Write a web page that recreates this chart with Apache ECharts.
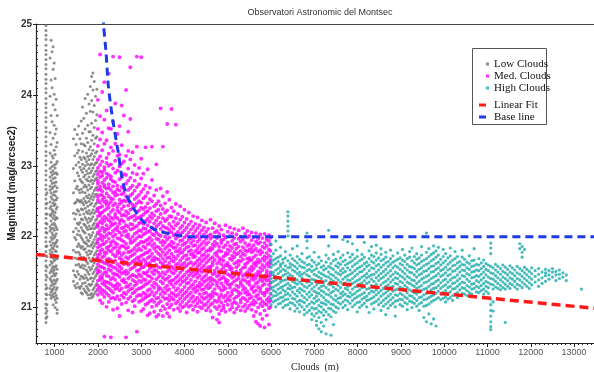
<!DOCTYPE html>
<html><head><meta charset="utf-8">
<script src="https://cdn.jsdelivr.net/npm/echarts@6/dist/echarts.min.js"></script>
<style>html,body{margin:0;padding:0;background:#fff}#chart{width:594px;height:372px}</style>
</head><body><div id="chart"></div>
<script>
// Sky brightness samples grouped by cloud-base height column.
// Each entry: [cloud height (m), [magnitude values in hundredths above MAG_BASE]]
const MAG_BASE = 20;

const lowClouds = [
  [800, [498,491,484,478,470,463,457,450,443,437,429,422,416,409,403,395,388,382,375,368,362,354,348,341,334,328,320,314,307,301,293,287,280,273,267,259,253,246,240,232,226,219,212,206,199,193,186,179,173,166,159,152,146,139,132,126,119,112,105,99,92,85,79]],
  [822, [262,247,232,218,205,187,172,157,143,128,118,104,95,87]],
  [895, [452,398,347,318,296,284,271,266,249,240,231,214,208,193,181,176,160,149,141,127,118]],
  [918, [477,421,371,330,305,291,279,262,256,243,229,222,211,199,188,171,165,152,138,131,122,113]],
  [942, [461,410,362,314,299,287,275,268,253,238,233,217,205,196,184,178,163,155,144,136,124,116]],
  [965, [468,436,386,339,311,293,282,270,259,247,236,226,212,202,191,183,170,158,150,133,126,119,104]],
  [990, [445,401,357,322,301,289,276,263,251,244,230,219,209,198,187,174,166,153,147,139,129,115]],
  [1012, [423,379,345,316,297,283,272,258,246,234,224,216,201,190,180,168,157,145,134,121,111,100]],
  [1036, [394,352,327,303,290,277,264,252,239,227,213,204,192,179,172,159,148,137,125,117,107]],
  [1058, [371,333,306,288,269,255,242,226,210,195,186,169,154,140,128,113,97,92]],
  [1435, [338,296,262,233,207,181,152,137]],
  [1465, [351,314,279,247,225,199,170,146,131]],
  [1495, [330,301,268,249,232,212,196,178,160,143,128]],
  [1525, [344,318,290,271,252,238,219,203,186,169,151,134]],
  [1555, [356,322,305,286,266,251,236,217,208,190,178,161,147,129]],
  [1585, [338,312,298,281,262,249,231,220,202,187,175,158,140,127]],
  [1615, [363,331,309,294,278,267,251,239,225,213,199,184,171,157,144,130,121]],
  [1645, [383,346,320,302,291,276,263,248,238,224,209,196,186,168,160,143,134,119]],
  [1675, [367,330,312,296,284,270,254,245,232,218,207,193,182,171,155,141,126]],
  [1705, [395,352,328,310,300,287,273,262,250,240,227,216,205,191,183,168,159,146,135,123]],
  [1735, [374,339,318,306,293,281,270,257,248,235,224,213,199,190,178,165,153,142,130,121]],
  [1765, [401,357,333,313,302,289,279,266,255,243,233,220,210,195,187,174,162,150,139,127,118]],
  [1795, [387,348,323,309,296,284,273,259,250,237,226,215,203,194,180,170,157,147,133,124,113]],
  [1825, [412,377,348,327,314,301,290,278,268,254,245,232,222,211,199,187,176,166,153,141,131,118]],
  [1855, [426,392,360,336,317,303,293,280,270,257,247,234,225,212,202,189,179,165,155,142,133,120,114]],
  [1885, [431,407,376,343,322,309,297,285,275,261,252,238,228,216,206,192,184,170,159,148,137,125,116]],
  [1915, [419,385,354,331,313,301,288,279,265,256,243,233,219,211,196,187,174,163,151,141,128,119]],
  [1945, [398,364,339,318,304,292,281,268,259,246,236,223,213,200,190,177,167,154,144,131,122]],
  [1975, [408,372,341,320,305,293,283,270,260,248,239,225,216,203,193,180,170,157,147,134,124]]
];

const medClouds = [
  [2000, [393,352,328,309,297,288,279,275,266,256,251,240,236,229,218,214,206,196,191,185,174,170,161,153,149,138,131,126,118]],
  [2050, [457,370,337,313,301,292,284,271,267,259,248,241,233,230,221,209,203,198,187,180,176,166,158,151,143,139,128,122,110]],
  [2100, [404,347,322,306,291,286,276,264,258,252,243,234,225,219,213,201,195,189,182,171,165,157,146,141,134,125,119,106]],
  [2150, [418,365,331,298,294,280,273,270,255,249,237,228,222,211,207,199,190,178,173,163,155,149,137,132,123,115,59]],
  [2200, [378,336,311,304,289,283,268,261,250,245,239,226,216,210,202,193,184,177,168,162,150,145,136,129,120,101]],
  [2250, [430,353,317,300,287,274,269,257,246,241,231,223,212,205,197,186,181,169,160,154,144,135,127,117,108]],
  [2300, [352,326,302,285,281,266,254,249,235,227,220,215,204,192,188,179,167,159,152,140,133,124,113,58]],
  [2350, [454,362,321,296,278,271,262,253,244,238,225,217,208,200,194,183,175,164,157,148,142,130,121,114,97]],
  [2400, [388,331,307,290,277,263,258,247,232,228,219,211,203,191,185,172,166,156,147,139,131,126,112]],
  [2450, [345,314,293,272,267,259,242,237,226,214,209,198,189,180,176,161,153,146,134,128,116,99]],
  [2500, [453,356,316,299,281,265,252,246,234,222,218,206,197,184,178,170,158,151,143,132,124,111,88]],
  [2550, [385,329,303,284,270,260,249,239,230,224,212,202,195,187,174,168,155,148,138,127,117,105]],
  [2600, [371,306,288,268,262,251,243,231,221,213,207,193,186,177,165,161,150,140,136,121,114]],
  [2650, [407,314,287,275,257,250,236,229,216,208,201,190,183,171,164,152,147,135,129,119,107,58]],
  [2700, [348,321,296,279,266,255,244,233,225,214,203,199,185,178,169,160,149,141,130,123,112,96]],
  [2750, [439,366,309,283,269,258,248,238,227,218,210,196,191,179,172,162,154,144,133,126,115]],
  [2800, [319,290,272,261,245,240,228,217,211,200,192,181,174,165,156,146,139,127,120,109,93]],
  [2850, [301,279,265,253,243,230,223,213,204,195,184,176,167,158,145,137,131,122,111,102]],
  [2900, [454,327,288,270,256,247,235,226,215,206,198,188,180,170,163,152,143,134,125,116,66]],
  [2950, [297,274,259,250,237,227,219,209,201,190,183,171,166,153,147,138,127,118,108]],
  [3000, [453,310,282,263,248,241,229,220,208,200,193,181,173,164,156,144,136,128,117,110,95]],
  [3050, [289,267,254,239,231,218,212,203,192,186,175,168,157,149,140,130,121,112,98]],
  [3100, [326,272,257,242,234,222,211,205,194,184,177,165,160,148,139,133,119,114,104]],
  [3150, [295,262,247,236,225,216,207,196,189,178,170,161,151,145,134,124,116,106,89]],
  [3200, [269,253,240,229,221,208,199,191,181,172,163,155,144,137,126,118,109,92]],
  [3250, [327,280,250,233,226,213,204,195,187,176,167,158,150,141,131,122,111,101]],
  [3300, [258,243,230,219,210,202,190,183,171,166,153,147,135,128,117,108,94]],
  [3350, [302,266,246,236,223,214,206,197,186,179,169,160,152,140,133,121,113,103,87]],
  [3400, [250,238,227,217,203,196,185,176,168,157,149,143,129,125,114,106,90]],
  [3450, [381,268,244,232,220,211,201,192,182,173,164,156,146,137,127,119,109,96]],
  [3500, [327,257,239,226,215,207,194,188,178,169,161,150,142,134,123,115,102,88]],
  [3550, [247,234,222,213,200,192,183,174,165,158,147,139,128,120,112,98]],
  [3600, [359,263,237,225,212,204,196,186,177,170,159,151,141,131,124,113,105,92]],
  [3650, [252,229,218,209,199,189,181,171,163,154,144,136,126,117,110,100,87]],
  [3700, [380,241,228,214,206,193,187,176,167,158,150,138,133,121,114,104]],
  [3750, [236,221,211,202,191,184,172,165,155,148,139,129,119,111,97]],
  [3800, [358,246,226,216,204,197,185,179,169,160,152,142,134,124,116,106]],
  [3850, [232,219,207,200,189,180,173,162,156,145,137,127,118,109,99]],
  [3900, [243,224,212,203,194,183,177,166,158,149,140,132,122,113,104,95]],
  [3950, [228,215,206,195,188,178,170,161,153,143,136,125,117,108,100]],
  [4000, [238,220,209,199,190,182,173,163,157,146,138,129,120,112,102]],
  [4050, [225,213,202,192,185,174,168,159,150,141,134,123,115,105,93]],
  [4100, [234,217,206,196,186,179,169,162,152,145,135,127,118,109,101]],
  [4150, [221,210,198,191,181,175,164,155,148,139,130,121,113,103]],
  [4200, [229,214,204,194,187,176,171,160,151,144,133,126,116,108,97]],
  [4250, [218,208,199,188,180,172,163,154,147,137,128,122,111,102]],
  [4300, [227,212,201,193,183,177,166,158,149,142,131,124,114,106,94]],
  [4350, [216,205,196,187,178,169,161,153,145,135,129,119,110,101]],
  [4400, [223,209,200,190,182,173,165,156,150,140,132,125,115,107,99]],
  [4450, [213,203,193,184,175,168,159,152,143,136,126,120,112,103]],
  [4500, [220,207,197,189,179,171,163,154,146,138,130,121,114,105,96]],
  [4550, [211,201,192,181,174,166,157,150,141,133,127,117,109,100]],
  [4600, [224,203,197,184,180,169,158,155,142,137,129,118,113,104,95]],
  [4650, [212,200,189,183,171,164,160,147,140,133,122,116,106,86]],
  [4700, [219,206,193,187,176,167,152,148,138,126,120,110,101]],
  [4750, [208,198,190,178,173,162,156,144,135,131,119,108,98,83]],
  [4800, [215,204,186,181,170,165,151,146,139,128,115,111,102,91,79]],
  [4850, [210,195,191,179,168,161,153,141,134,124,118,107,96]],
  [4900, [202,196,185,172,166,157,149,143,130,125,114,103,99]],
  [4950, [216,199,188,177,174,160,152,140,136,127,117,109,94]],
  [5000, [207,192,182,176,163,159,147,138,133,121,112,104]],
  [5050, [213,201,187,180,169,158,154,145,132,128,116,110,97]],
  [5100, [205,194,184,173,167,155,150,142,134,123,119,105,100]],
  [5150, [211,198,189,178,171,162,148,144,137,126,113,108,93]],
  [5200, [203,190,183,175,164,157,151,139,131,124,115,106,98]],
  [5250, [209,197,186,177,166,160,146,141,129,122,117,102]],
  [5300, [200,193,180,172,165,153,149,136,133,120,111,107,96]],
  [5350, [212,196,185,176,168,156,145,140,130,125,114,101]],
  [5400, [204,191,181,174,161,157,147,138,127,121,112,104,95]],
  [5450, [208,199,187,179,169,163,150,143,135,123,118,109,99]],
  [5500, [201,189,182,170,166,154,148,137,132,119,113,103]],
  [5550, [206,195,184,178,167,158,152,141,128,126,115,106,97]],
  [5600, [199,188,180,171,162,155,144,139,130,122,110,104,88]],
  [5650, [205,193,183,174,164,159,147,142,134,124,116,107,94,80]],
  [5700, [197,190,179,168,163,151,146,136,129,118,112,100,77]],
  [5750, [203,192,181,175,165,156,149,140,127,123,113,105,91,74]],
  [5800, [198,186,178,169,160,153,143,137,131,120,109,102,84]],
  [5850, [204,191,184,172,166,157,145,141,133,121,117,106,96,72]],
  [5900, [196,187,177,170,161,152,148,138,126,122,111,104,89]],
  [5950, [202,194,182,173,164,158,144,139,132,125,114,108,99,76]],
  [5985, [199,189,180,167,162,150,146,135,128,119,110,101]]
];

const highClouds = [
  [6000, [189,172,164,157,149,141,135,127,120,113,104]],
  [6055, [176,167,160,150,146,137,129,124,116,108]],
  [6110, [194,181,169,162,153,144,139,131,122,117,110,101]],
  [6165, [171,165,155,148,142,133,126,119,112,105]],
  [6220, [185,173,161,158,151,140,136,128,121,114,106]],
  [6275, [168,163,154,145,138,130,125,115,109,100]],
  [6330, [179,170,159,152,147,139,132,123,118,111,103]],
  [6390, [235,229,222,215,208,201,166,156,149,143,134,127,120,112,104]],
  [6440, [174,162,157,146,140,131,126,117,107,98]],
  [6495, [183,169,160,153,144,137,128,122,113,106]],
  [6550, [166,158,151,141,135,129,119,112,103,95]],
  [6605, [187,172,163,155,148,139,133,124,116,108,99]],
  [6660, [168,159,150,145,136,127,121,110,104,94]],
  [6715, [176,165,157,147,142,133,125,117,109,101]],
  [6770, [163,156,149,138,130,123,114,107,97,90]],
  [6830, [205,194,184,170,160,152,146,136,128,119,111,102,93]],
  [6885, [172,161,154,144,137,131,122,115,105,96]],
  [6940, [167,158,151,140,134,126,118,108,100,91,83]],
  [6995, [178,164,153,147,139,129,123,113,106,98,88]],
  [7050, [160,155,145,137,132,121,116,109,99,92,81,75]],
  [7105, [171,162,150,143,135,127,120,111,103,95,86,70]],
  [7160, [166,157,148,141,130,124,117,107,101,93,79,66]],
  [7215, [159,153,146,136,131,122,114,106,97,89,74]],
  [7270, [174,164,155,144,138,128,119,110,104,94,83,63]],
  [7330, [209,187,169,158,150,143,133,125,118,108,99,90]],
  [7385, [162,156,147,140,132,121,115,105,98,87,61]],
  [7440, [175,166,154,145,137,129,123,112,104,95,76]],
  [7495, [168,159,150,142,134,126,117,110,101,93]],
  [7550, [179,163,157,148,139,131,124,113,107,99]],
  [7605, [170,161,152,146,136,128,120,114,105]],
  [7660, [196,174,165,155,149,140,133,122,117,108,100]],
  [7715, [167,160,151,143,135,127,119,111,103]],
  [7770, [193,177,162,156,145,139,130,125,116,109,97]],
  [7825, [171,164,153,147,138,132,121,115,106]],
  [7880, [190,175,166,158,149,141,134,126,118,110,101]],
  [7935, [169,161,152,144,136,129,120,113,104]],
  [7990, [181,172,163,155,147,138,130,123,115,107,94]],
  [8045, [166,157,150,140,133,125,117,108,100]],
  [8100, [175,168,159,151,143,135,128,119,112,103]],
  [8155, [192,171,162,154,145,138,129,121,114,106]],
  [8210, [164,158,148,142,134,126,116,110,101]],
  [8265, [180,169,160,152,144,136,127,120,111,93]],
  [8320, [186,174,165,156,146,140,131,123,113,105]],
  [8375, [172,163,155,147,137,130,122,115,107,98]],
  [8430, [188,177,167,159,150,142,133,125,118,109]],
  [8485, [170,161,153,145,138,128,121,112,104]],
  [8540, [183,175,166,157,148,141,132,124,116,107,96]],
  [8595, [168,160,151,143,135,127,119,110,102]],
  [8650, [178,171,163,154,146,137,130,121,113,105,90]],
  [8705, [165,158,149,140,132,124,116,108,99]],
  [8760, [181,169,161,152,144,136,128,119,111,103]],
  [8815, [173,164,156,147,139,130,123,114,106]],
  [8870, [166,159,150,142,134,125,118,109,101,88]],
  [8925, [177,168,157,148,141,133,126,117,110]],
  [8980, [170,162,154,145,137,129,120,112,104]],
  [9035, [182,167,160,151,143,135,127,118,111,102]],
  [9090, [174,165,156,148,140,131,124,115,107]],
  [9145, [169,161,153,144,136,128,121,113,105,97]],
  [9200, [179,171,158,150,142,134,125,117,109]],
  [9255, [184,166,157,149,139,132,123,116,108,100]],
  [9310, [172,163,155,146,138,130,121,113,106]],
  [9365, [176,168,160,151,143,134,127,119,110,102]],
  [9420, [170,162,154,146,137,129,122,114,105,96]],
  [9475, [186,174,165,156,148,140,131,124,115,107]],
  [9530, [167,159,151,142,135,126,118,111,102,86]],
  [9590, [205,178,169,161,152,144,136,127,120,112,103,80]],
  [9645, [183,172,163,155,146,138,130,121,114,105,91]],
  [9700, [175,166,158,150,141,133,125,116,108,77]],
  [9755, [187,177,168,159,151,143,134,127,118,110,84]],
  [9810, [180,171,162,154,145,137,128,120,112,74]],
  [9865, [185,174,164,156,148,139,131,123,114]],
  [9920, [168,160,152,144,135,127,119,111]],
  [9975, [182,172,163,154,146,138,130,121,113]],
  [10030, [176,166,157,149,140,132,124,115,108]],
  [10085, [170,161,153,145,136,128,120,112]],
  [10140, [184,173,164,155,147,139,130,122,114]],
  [10195, [167,159,151,142,134,126,117,110]],
  [10250, [179,169,160,152,143,135,127,119]],
  [10305, [172,163,155,146,138,130,121,114]],
  [10360, [165,158,150,141,133,125,117]],
  [10415, [181,171,161,153,145,136,128,120]],
  [10470, [168,160,152,144,135,127,119]],
  [10525, [164,156,148,140,131,124,117]],
  [10580, [173,162,154,146,137,129,121]],
  [10635, [166,158,150,142,133,126,119]],
  [10690, [183,167,159,151,143,134,127]],
  [10745, [161,153,145,138,130,122]],
  [10800, [169,160,152,144,136,128,121]],
  [10855, [163,155,147,139,131,124]],
  [10910, [167,158,150,142,134,126,119]],
  [10965, [162,154,146,137,130,123]],
  [11020, [160,152,143,135,128,120]],
  [11075, [191,184,176,158,149,141,133,112,104,96,88,80,73,69]],
  [11130, [156,148,140,132,126,108,95]],
  [11185, [161,153,145,137,129]],
  [11240, [158,150,142,134,127]],
  [11300, [155,147,139,131,125]],
  [11355, [160,151,143,136,128]],
  [11410, [157,149,141,133,126,79]],
  [11465, [154,146,138,130]],
  [11520, [159,150,142,134,127]],
  [11575, [156,148,140,132]],
  [11630, [153,145,137,129]],
  [11685, [158,149,141,133,126]],
  [11745, [190,183,155,147,139,131]],
  [11800, [186,178,171,152,144,136,128]],
  [11855, [182,157,149,141,133]],
  [11910, [154,146,138,130]],
  [11965, [151,143,135,127]],
  [12020, [156,148,140,132]],
  [12100, [152,144,136]],
  [12180, [155,147,139,130]],
  [12260, [150,142,134]],
  [12340, [154,149,145,137]],
  [12420, [152,146,140]],
  [12500, [155,150,143]],
  [12580, [151,146,138]],
  [12660, [153,147,141]],
  [12740, [149,143]],
  [12820, [146,138]],
  [13170, [126]]
];

// Straight-line fit through the whole sample
const linearFit = [[570, 21.75], [13460, 20.99]];
// Clear-sky reference curve
const baseLine = [[2110, 25.3], [2130, 25.0], [2189, 24.59], [2242, 24.12], [2343, 23.65], [2472, 23.18],
  [2551, 22.85], [2666, 22.58], [2897, 22.33], [3089, 22.19], [3359, 22.09], [3666, 22.04],
  [3820, 22.02], [4100, 22.0], [13460, 22.0]];

const xTicks = [1000, 2000, 3000, 4000, 5000, 6000, 7000, 8000, 9000, 10000, 11000, 12000, 13000];
const yTicks = [21, 22, 23, 24, 25];

const xMinor = [];
for (let v = 600; v <= 13400; v += 100) xMinor.push(v);
const yMinor = [];
for (let v = 206; v <= 250; v++) yMinor.push(v / 10);

function toPoints(cols) {
  const pts = [];
  cols.forEach(([x, ys]) => ys.forEach(v => pts.push([x, MAG_BASE + v / 100])));
  return pts;
}

const X_MIN = 570, X_MAX = 13460, Y_MIN = 20.5, Y_MAX = 25;
const AXIS_COLOR = '#222';
const plain = v => String(v);

const chart = echarts.init(document.getElementById('chart'), null, { renderer: 'canvas' });

chart.setOption({
  animation: false,
  backgroundColor: '#fff',
  title: {
    text: 'Observatori Astronomic del Montsec',
    left: 315, top: 3, textAlign: 'center',
    textStyle: { fontFamily: 'Liberation Sans', fontSize: 9, fontWeight: 'normal', color: '#333' }
  },
  grid: { left: 36, right: 0, top: 24, bottom: 29, containLabel: false, outerBoundsMode: 'none' },
  graphic: [{
    type: 'rect', z: 5,
    shape: { x: 472.5, y: 48.5, width: 74, height: 76 },
    style: { fill: '#fff', stroke: '#555', lineWidth: 1 }
  }],
  legend: [{
    data: ['Low Clouds', 'Med. Clouds', 'High Clouds'],
    orient: 'vertical', left: 481, top: 53, z: 10,
    icon: 'rect', itemWidth: 3, itemHeight: 3, itemGap: 0,
    selectedMode: false,
    textStyle: { fontFamily: 'Liberation Serif', fontSize: 11, color: '#111', lineHeight: 12 }
  }, {
    data: ['Linear Fit', 'Base line'],
    orient: 'vertical', left: 474, top: 94, z: 10,
    icon: 'rect', itemWidth: 7, itemHeight: 3, itemGap: 0,
    selectedMode: false,
    textStyle: { fontFamily: 'Liberation Serif', fontSize: 11, color: '#111', lineHeight: 12, padding: [0, 0, 0, 3] }
  }],
  xAxis: [{
    type: 'value', min: X_MIN, max: X_MAX,
    name: 'Clouds  (m)', nameLocation: 'middle', nameGap: 13,
    nameTextStyle: { fontFamily: 'Liberation Serif', fontSize: 10, color: '#222', verticalAlign: 'top' },
    axisLine: { lineStyle: { color: AXIS_COLOR, width: 1.2 } },
    axisTick: { customValues: xTicks, length: 4, lineStyle: { color: AXIS_COLOR } },
    axisLabel: { customValues: xTicks, formatter: plain, fontFamily: 'Liberation Sans', fontSize: 9, color: '#555', margin: 5 },
    splitLine: { show: false }
  }, {
    type: 'value', min: X_MIN, max: X_MAX, position: 'bottom',
    axisLine: { show: false },
    axisTick: { customValues: xMinor, length: 2, lineStyle: { color: AXIS_COLOR } },
    axisLabel: { show: false }, splitLine: { show: false }
  }, {
    type: 'value', min: X_MIN, max: X_MAX, position: 'top',
    axisLine: { lineStyle: { color: '#444', width: 1.2 } },
    axisTick: { show: false }, axisLabel: { show: false }, splitLine: { show: false }
  }],
  yAxis: [{
    type: 'value', min: Y_MIN, max: Y_MAX,
    name: 'Magnitud (mag/arcsec2)', nameLocation: 'middle', nameGap: 19, nameRotate: 90,
    nameMoveOverlap: false,
    nameTextStyle: { fontFamily: 'Liberation Sans', fontSize: 10, fontWeight: 'bold', color: '#222' },
    axisLine: { lineStyle: { color: AXIS_COLOR, width: 1.2 } },
    axisTick: { customValues: yTicks, length: 3, lineStyle: { color: AXIS_COLOR } },
    axisLabel: { customValues: yTicks, formatter: plain, fontFamily: 'Liberation Sans', fontSize: 10, fontWeight: 'bold', color: '#333', margin: 4 },
    splitLine: { show: false }
  }, {
    type: 'value', min: Y_MIN, max: Y_MAX,
    axisLine: { show: false }, position: 'left',
    axisTick: { customValues: yMinor, length: 2, inside: true, lineStyle: { color: AXIS_COLOR } },
    axisLabel: { show: false }, splitLine: { show: false }
  }],
  series: [{
    name: 'Low Clouds', type: 'scatter', symbol: 'circle', symbolSize: 3,
    itemStyle: { color: '#737373' }, data: toPoints(lowClouds), z: 2
  }, {
    name: 'Med. Clouds', type: 'scatter', symbol: 'circle', symbolSize: 3.9,
    itemStyle: { color: '#ff00ff' }, data: toPoints(medClouds), z: 2
  }, {
    name: 'High Clouds', type: 'scatter', symbol: 'circle', symbolSize: 3.2,
    itemStyle: { color: '#1aabab' }, data: toPoints(highClouds), z: 2
  }, {
    name: 'Linear Fit', type: 'line', data: linearFit, showSymbol: false, z: 3,
    itemStyle: { color: '#ff1a1a' },
    lineStyle: { color: '#ff1a1a', width: 3.5, type: [9, 5] }
  }, {
    name: 'Base line', type: 'line', data: baseLine, showSymbol: false, smooth: 0.3, z: 3, clip: true,
    itemStyle: { color: '#1f3be6' },
    lineStyle: { color: '#1f3be6', width: 3, type: [8, 5] }
  }]
});
</script></body></html>
